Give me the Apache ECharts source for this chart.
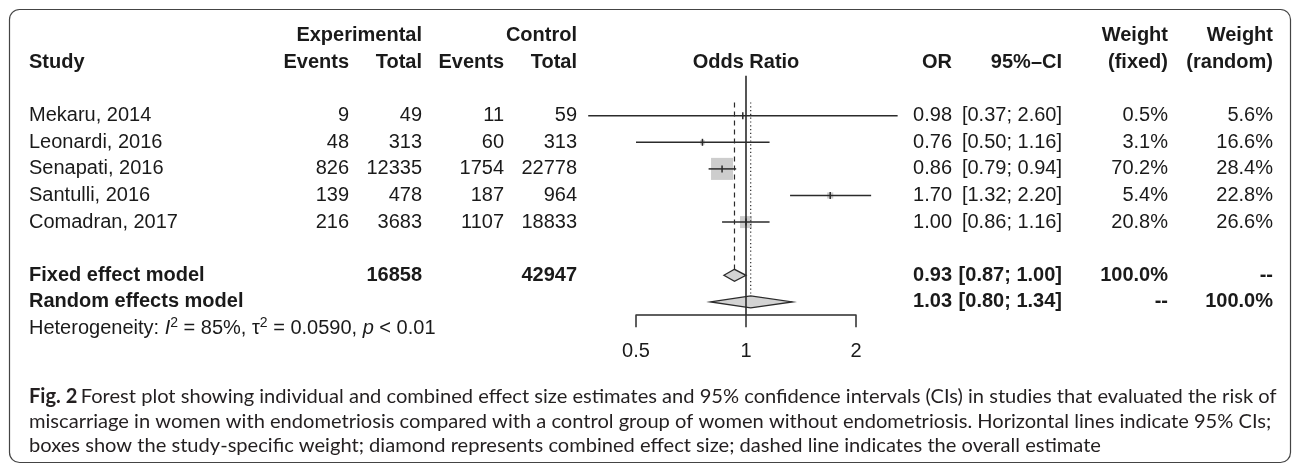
<!DOCTYPE html>
<html><head><meta charset="utf-8">
<script src="https://cdn.jsdelivr.net/npm/echarts@6/dist/echarts.min.js"></script>
<style>html,body{margin:0;padding:0;background:#fff}#c{width:1292px;height:465px}</style>
</head><body><div id="c"></div>
<script>
// ---------- data ----------
const studies = ['Mekaru, 2014', 'Leonardi, 2016', 'Senapati, 2016', 'Santulli, 2016', 'Comadran, 2017'];
const expEvents = [9, 48, 826, 139, 216];
const expTotal = [49, 313, 12335, 478, 3683];
const ctrlEvents = [11, 60, 1754, 187, 1107];
const ctrlTotal = [59, 313, 22778, 964, 18833];
const orEst = [0.98, 0.76, 0.86, 1.70, 1.00];
const ciLow = [0.37, 0.50, 0.79, 1.32, 0.86];
const ciHigh = [2.60, 1.16, 0.94, 2.20, 1.16];
const weightFixed = [0.5, 3.1, 70.2, 5.4, 20.8];
const weightRandom = [5.6, 16.6, 28.4, 22.8, 26.6];
const pooledNames = ['Fixed effect model', 'Random effects model'];
const pooledExpTotal = ['16858', ''];
const pooledCtrlTotal = ['42947', ''];
const pooledOR = [0.93, 1.03];
const pooledLow = [0.87, 0.80];
const pooledHigh = [1.00, 1.34];
const pooledWFixed = ['100.0%', '--'];
const pooledWRandom = ['--', '100.0%'];
const xTicks = [0.5, 1, 2];
const hetI2 = '85%', hetTau2 = '0.0590', hetP = '0.01';
const captionLines = [
  'Forest plot showing individual and combined effect size estimates and 95% confidence intervals (CIs) in studies that evaluated the risk of',
  'miscarriage in women with endometriosis compared with a control group of women without endometriosis. Horizontal lines indicate 95% CIs;',
  'boxes show the study-specific weight; diamond represents combined effect size; dashed line indicates the overall estimate'
];

// ---------- layout ----------
const FONT = '"Liberation Sans", Arial, Helvetica, sans-serif';
const FS = 20;
const TXT = '#1a1a1a';
const LINE = '#2b2b2b';
const BOX_K = 2.63;      // px per sqrt(weight)
const DIA_H = 6;         // diamond half height px
const STUDY_ROW0 = 3, POOLED_ROW0 = 9, HET_ROW = 11;
const COL = { study: 29, expEv: 349, expTot: 422, ctlEv: 504, ctlTot: 577, or: 952, ci: 1062, wf: 1168, wr: 1273 };

// caption font size fitted to the caption width
const mctx = document.createElement('canvas').getContext('2d');
function textW(font, t) { mctx.font = font; return mctx.measureText(t).width; }
const CAP_X = 29, CAP_RIGHT = 1280;
const capW17 = textW('bold 17px Lato', 'Fig. 2') + textW('17px Lato', ' ' + captionLines[0]);
const CAP_FS = Math.round(17 * (CAP_RIGHT - CAP_X) / capW17 * 10) / 10;

const fmt2 = v => v.toFixed(2);
const ciText = (l, h) => '[' + fmt2(l) + '; ' + fmt2(h) + ']';

const cells = [];
function cell(row, x, align, text, bold) { cells.push({ row, x, align, text: String(text), bold: !!bold }); }
// headers
cell(0, COL.expTot, 'right', 'Experimental', 1);
cell(0, COL.ctlTot, 'right', 'Control', 1);
cell(0, COL.wf, 'right', 'Weight', 1);
cell(0, COL.wr, 'right', 'Weight', 1);
cell(1, COL.study, 'left', 'Study', 1);
cell(1, COL.expEv, 'right', 'Events', 1);
cell(1, COL.expTot, 'right', 'Total', 1);
cell(1, COL.ctlEv, 'right', 'Events', 1);
cell(1, COL.ctlTot, 'right', 'Total', 1);
cell(1, 'center1', 'center', 'Odds Ratio', 1);
cell(1, COL.or, 'right', 'OR', 1);
cell(1, COL.ci, 'right', '95%\u2013CI', 1);
cell(1, COL.wf, 'right', '(fixed)', 1);
cell(1, COL.wr, 'right', '(random)', 1);
studies.forEach((s, i) => {
  const r = STUDY_ROW0 + i;
  cell(r, COL.study, 'left', s);
  cell(r, COL.expEv, 'right', expEvents[i]);
  cell(r, COL.expTot, 'right', expTotal[i]);
  cell(r, COL.ctlEv, 'right', ctrlEvents[i]);
  cell(r, COL.ctlTot, 'right', ctrlTotal[i]);
  cell(r, COL.or, 'right', fmt2(orEst[i]));
  cell(r, COL.ci, 'right', ciText(ciLow[i], ciHigh[i]));
  cell(r, COL.wf, 'right', weightFixed[i].toFixed(1) + '%');
  cell(r, COL.wr, 'right', weightRandom[i].toFixed(1) + '%');
});
pooledNames.forEach((s, i) => {
  const r = POOLED_ROW0 + i;
  cell(r, COL.study, 'left', s, 1);
  cell(r, COL.expTot, 'right', pooledExpTotal[i], 1);
  cell(r, COL.ctlTot, 'right', pooledCtrlTotal[i], 1);
  cell(r, COL.or, 'right', fmt2(pooledOR[i]), 1);
  cell(r, COL.ci, 'right', ciText(pooledLow[i], pooledHigh[i]), 1);
  cell(r, COL.wf, 'right', pooledWFixed[i], 1);
  cell(r, COL.wr, 'right', pooledWRandom[i], 1);
});

const chart = echarts.init(document.getElementById('c'), null, { renderer: 'canvas' });

const studyData = studies.map((s, i) => [STUDY_ROW0 + i, orEst[i], ciLow[i], ciHigh[i], weightFixed[i]]);
const pooledData = pooledOR.map((e, i) => [POOLED_ROW0 + i, e, pooledLow[i], pooledHigh[i]]);
// reference lines: [x value, topRow, bottomRow, bottomOffsetPx, style]
const refData = [
  [1, 1.5, 10.5, 0, 0],
  [pooledOR[0], 2.5, POOLED_ROW0, -DIA_H, 1],
  [pooledOR[1], 2.5, POOLED_ROW0 + 1, -DIA_H, 2]
];

const capFont = CAP_FS + 'px Lato';
const option = {
  animation: false,
  grid: { left: 636, right: 1292 - 856, top: 35.9, bottom: 465 - 315.2, containLabel: false },
  xAxis: {
    type: 'log', logBase: 2, min: 0.5, max: 2, interval: 1,
    axisLine: { show: true, onZero: false, lineStyle: { color: LINE, width: 1.5 } },
    axisTick: { show: true, length: 12, lineStyle: { color: LINE, width: 1.5 } },
    axisLabel: { fontSize: FS, fontFamily: FONT, color: TXT, margin: 26,
      formatter: v => String(Math.round(v * 100) / 100) },
    splitLine: { show: false }
  },
  yAxis: { type: 'value', inverse: true, min: 0, max: 10.5, show: false },
  graphic: [
    { type: 'rect', shape: { x: 9.5, y: 9.5, width: 1281, height: 453, r: 10 },
      style: { fill: 'none', stroke: '#444', lineWidth: 1.2 }, silent: true },
    { type: 'text', x: CAP_X, y: 397, style: {
        text: '{b|Fig. 2} {n|' + captionLines[0] + '}',
        verticalAlign: 'middle',
        rich: { b: { fontFamily: 'Lato', fontWeight: 'bold', fontSize: CAP_FS, fill: '#231f20' },
                n: { fontFamily: 'Lato', fontSize: CAP_FS, fill: '#231f20' } } } },
    { type: 'text', x: CAP_X, y: 421.5, style: { text: captionLines[1], font: capFont, fill: '#231f20', verticalAlign: 'middle' } },
    { type: 'text', x: CAP_X, y: 446, style: { text: captionLines[2], font: capFont, fill: '#231f20', verticalAlign: 'middle' } }
  ],
  series: [
    { type: 'custom', coordinateSystem: 'cartesian2d', clip: false, z: 5,
      data: refData, encode: { x: 0, y: 1 },
      renderItem: (p, api) => {
        const x = api.value(0);
        const top = api.coord([x, api.value(1)]);
        const bot = api.coord([x, api.value(2)]);
        const st = api.value(4);
        const dash = st === 1 ? [5, 4] : st === 2 ? [1.2, 2.6] : null;
        return { type: 'line', shape: { x1: top[0], y1: top[1], x2: bot[0], y2: bot[1] + api.value(3) },
          style: { stroke: LINE, lineWidth: st === 0 ? 1.6 : 1.2, lineDash: dash } };
      } },
    { type: 'custom', coordinateSystem: 'cartesian2d', clip: false, z: 4,
      data: studyData, encode: { x: 1, y: 0 },
      renderItem: (p, api) => {
        const row = api.value(0);
        const c = api.coord([api.value(1), row]);
        const l = api.coord([api.value(2), row]);
        const h = api.coord([api.value(3), row]);
        const s = BOX_K * Math.sqrt(api.value(4));
        return { type: 'group', children: [
          { type: 'rect', shape: { x: c[0] - s / 2, y: c[1] - s / 2, width: s, height: s }, style: { fill: '#cdcdcd' } },
          { type: 'line', shape: { x1: l[0], y1: c[1], x2: h[0], y2: c[1] }, style: { stroke: LINE, lineWidth: 1.5 } },
          { type: 'line', shape: { x1: c[0], y1: c[1] - 3.5, x2: c[0], y2: c[1] + 3.5 }, style: { stroke: LINE, lineWidth: 1.5 } }
        ] };
      } },
    { type: 'custom', coordinateSystem: 'cartesian2d', clip: false, z: 4,
      data: pooledData, encode: { x: 1, y: 0 },
      renderItem: (p, api) => {
        const row = api.value(0);
        const c = api.coord([api.value(1), row]);
        const l = api.coord([api.value(2), row]);
        const h = api.coord([api.value(3), row]);
        return { type: 'polygon', shape: { points: [[l[0], c[1]], [c[0], c[1] - DIA_H], [h[0], c[1]], [c[0], c[1] + DIA_H]] },
          style: { fill: '#d3d3d3', stroke: LINE, lineWidth: 1.3 } };
      } },
    { type: 'custom', coordinateSystem: 'cartesian2d', clip: false, z: 6,
      data: cells.map((c, i) => [i, c.row]), encode: { y: 1 },
      renderItem: (p, api) => {
        const c = cells[p.dataIndex];
        const pt = api.coord([1, c.row]);
        const x = c.x === 'center1' ? pt[0] : c.x;
        return { type: 'text', x: x, y: pt[1], style: {
          text: c.text, fill: TXT, font: (c.bold ? 'bold ' : '') + FS + 'px ' + FONT,
          align: c.align, textAlign: c.align, verticalAlign: 'middle', textVerticalAlign: 'middle' } };
      } },
    { type: 'custom', coordinateSystem: 'cartesian2d', clip: false, z: 6,
      data: [[HET_ROW]], encode: { y: 0 },
      renderItem: (p, api) => {
        const pt = api.coord([1, api.value(0)]);
        return { type: 'text', x: COL.study, y: pt[1], style: {
          text: '{n|Heterogeneity: }{i|I}{s|2}{n| = ' + hetI2 + ', \u03c4}{s|2}{n| = ' + hetTau2 + ', }{i|p}{n| < ' + hetP + '}',
          verticalAlign: 'middle', textVerticalAlign: 'middle',
          rich: {
            n: { fontFamily: FONT, fontSize: 20, fill: TXT, lineHeight: 24 },
            i: { fontFamily: FONT, fontSize: 20, fontStyle: 'italic', fill: TXT, lineHeight: 24 },
            s: { fontFamily: FONT, fontSize: 14, fill: TXT, verticalAlign: 'top', lineHeight: 14 }
          } } };
      } }
  ]
};
chart.setOption(option);
</script>
</body></html>
